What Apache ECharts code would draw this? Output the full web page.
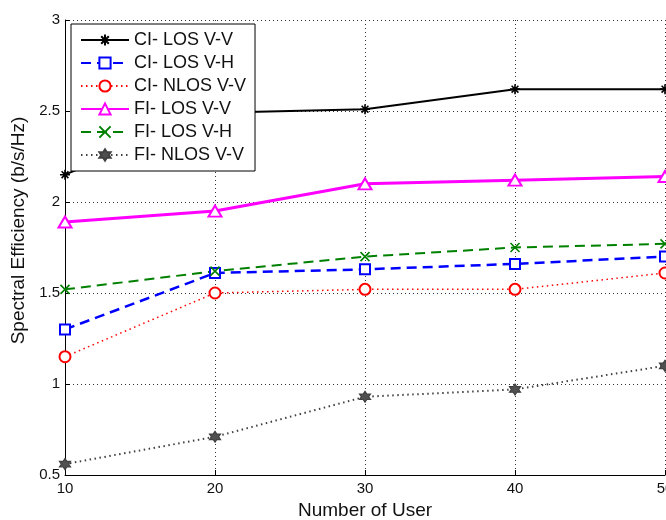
<!DOCTYPE html>
<html>
<head>
<meta charset="utf-8">
<script src="https://cdn.jsdelivr.net/npm/echarts@6/dist/echarts.min.js"></script>
<style>
  html, body { margin: 0; padding: 0; background: #fff; }
  #chart { width: 666px; height: 520px; }
</style>
</head>
<body>
<div id="chart"></div>
<script>
// ---- data ----
const users = [10, 20, 30, 40, 50];
const ciLosVV  = [2.15, 2.49, 2.51, 2.62, 2.62];
const ciLosVH  = [1.30, 1.61, 1.63, 1.66, 1.70];
const ciNlosVV = [1.15, 1.50, 1.52, 1.52, 1.61];
const fiLosVV  = [1.89, 1.95, 2.10, 2.12, 2.14];
const fiLosVH  = [1.52, 1.62, 1.70, 1.75, 1.77];
const fiNlosVV = [0.56, 0.71, 0.93, 0.97, 1.10];
const seriesNames = ['CI- LOS V-V', 'CI- LOS V-H', 'CI- NLOS V-V', 'FI- LOS V-V', 'FI- LOS V-H', 'FI- NLOS V-V'];
const xTitle = 'Number of User';
const yTitle = 'Spectral Efficiency (b/s/Hz)';

function pairs(vals) { return users.map((u, i) => [u, vals[i]]); }

const FONT = "'Liberation Sans', Arial, Helvetica, sans-serif";
const starPath = 'path://M5 0 L5 10 M0 5 L10 5 M1.6 1.6 L8.4 8.4 M1.6 8.4 L8.4 1.6';
const xPath = 'path://M0 0 L10 10 M0 10 L10 0';
const hexPath = 'path://M5 0 L6.44 2.5 L9.33 2.5 L7.89 5 L9.33 7.5 L6.44 7.5 L5 10 L3.56 7.5 L0.67 7.5 L2.11 5 L0.67 2.5 L3.56 2.5 Z';

const chart = echarts.init(document.getElementById('chart'), null, { renderer: 'canvas' });

const option = {
  animation: false,
  backgroundColor: '#ffffff',
  textStyle: { fontFamily: FONT },
  grid: { left: 65, right: 1, top: 20, bottom: 45, containLabel: false, outerBoundsMode: 'none' },
  legend: {
    orient: 'vertical',
    left: 71,
    top: 24,
    padding: [7, 9, 7, 9],
    itemGap: 5,
    itemWidth: 48,
    itemHeight: 14,
    backgroundColor: '#ffffff',
    borderColor: '#000000',
    borderWidth: 1,
    borderRadius: 0,
    textStyle: { fontFamily: FONT, fontSize: 18, color: '#111', lineHeight: 18 },
    data: seriesNames
  },
  xAxis: {
    type: 'value',
    min: 10, max: 50, interval: 10,
    name: xTitle,
    nameLocation: 'middle',
    nameGap: 26,
    nameTextStyle: { fontFamily: FONT, fontSize: 19, color: '#111' },
    axisLine: { show: true, onZero: false, lineStyle: { color: '#000', width: 1 } },
    axisTick: { show: true, inside: true, length: 5, lineStyle: { color: '#000' } },
    axisLabel: { fontFamily: FONT, fontSize: 15, color: '#111', margin: 6 },
    splitLine: { show: true, lineStyle: { color: '#333', width: 1, type: [1, 3] } }
  },
  yAxis: {
    type: 'value',
    min: 0.5, max: 3, interval: 0.5,
    name: yTitle,
    nameLocation: 'middle',
    nameGap: 35,
    nameTextStyle: { fontFamily: FONT, fontSize: 19, color: '#111', padding: [0, 0, 0, 34] },
    axisLine: { show: true, onZero: false, lineStyle: { color: '#000', width: 1 } },
    axisTick: { show: true, inside: true, length: 5, lineStyle: { color: '#000' } },
    axisLabel: { fontFamily: FONT, fontSize: 15, color: '#111', margin: 5 },
    splitLine: { show: true, lineStyle: { color: '#333', width: 1, type: [1, 3] } }
  },
  series: [
    {
      name: seriesNames[0], type: 'line', data: pairs(ciLosVV),
      symbol: starPath, symbolSize: 10,
      lineStyle: { color: '#000000', width: 2, type: 'solid' },
      itemStyle: { color: '#000000', borderColor: '#000000', borderWidth: 1.6 }
    },
    {
      name: seriesNames[1], type: 'line', data: pairs(ciLosVH),
      symbol: 'emptyRect', symbolSize: 10,
      lineStyle: { color: '#0000ff', width: 2.5, type: [10, 6] },
      itemStyle: { color: '#0000ff', borderColor: '#0000ff', borderWidth: 1.6 }
    },
    {
      name: seriesNames[2], type: 'line', data: pairs(ciNlosVV),
      symbol: 'emptyCircle', symbolSize: 11,
      lineStyle: { color: '#ff0000', width: 1.5, type: [1.5, 3.5] },
      itemStyle: { color: '#ff0000', borderColor: '#ff0000', borderWidth: 1.8 }
    },
    {
      name: seriesNames[3], type: 'line', data: pairs(fiLosVV),
      symbol: 'emptyTriangle', symbolSize: [13, 11],
      lineStyle: { color: '#ff00ff', width: 3, type: 'solid' },
      itemStyle: { color: '#ff00ff', borderColor: '#ff00ff', borderWidth: 1.6 }
    },
    {
      name: seriesNames[4], type: 'line', data: pairs(fiLosVH),
      symbol: xPath, symbolSize: 9,
      lineStyle: { color: '#008000', width: 2, type: [10, 6] },
      itemStyle: { color: '#008000', borderColor: '#008000', borderWidth: 1.6 }
    },
    {
      name: seriesNames[5], type: 'line', data: pairs(fiNlosVV),
      symbol: hexPath, symbolSize: 11,
      lineStyle: { color: '#404040', width: 2, type: [1.5, 3.5] },
      itemStyle: { color: '#505050', borderColor: '#404040', borderWidth: 1.2 }
    }
  ]
};
chart.setOption(option);
</script>
</body>
</html>
